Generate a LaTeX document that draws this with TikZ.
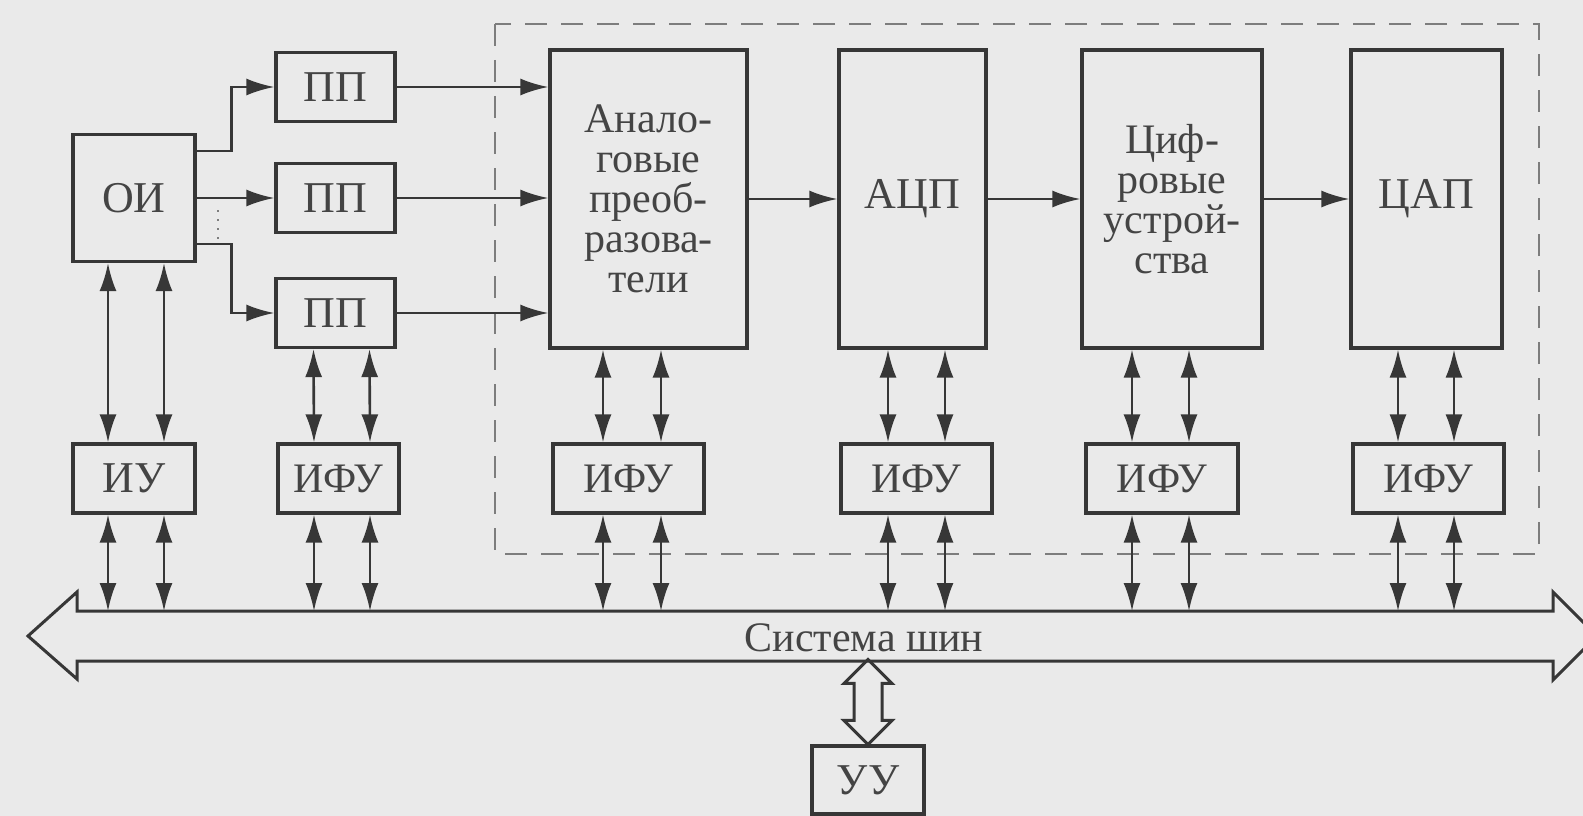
\documentclass[tikz,border=0pt]{standalone}
\usepackage{fontspec}
\setmainfont{Liberation Serif}
\usetikzlibrary{arrows.meta}
\definecolor{bg}{RGB}{234,234,234}
\definecolor{ln}{RGB}{55,55,55}
\definecolor{tx}{RGB}{68,68,68}
\definecolor{dsh}{RGB}{125,125,125}
\begin{document}
\begin{tikzpicture}[x=1pt,y=-1pt,
  box/.style={draw=ln, line width=3.2pt, text=tx, inner sep=0pt, align=center,
    font=\fontsize{44}{40}\selectfont},
  small/.style={font=\fontsize{42}{40}\selectfont},
  arr/.style={draw=ln, line width=2.6pt, -{Latex[length=28pt,width=17pt]}},
  dbl/.style={draw=ln, line width=2.6pt, {Latex[length=28pt,width=17pt]}-{Latex[length=28pt,width=17pt]}},
  dashbox/.style={draw=dsh, line width=2.8pt, dash pattern=on 22pt off 14pt},
  busline/.style={draw=ln, line width=3pt, line join=miter},
  lbl/.style={text=tx, font=\fontsize{42}{40}\selectfont},
]
\fill[bg] (0,0) rectangle (1583,816);
\useasboundingbox (0,0) rectangle (1583,816);
\clip (0,0) rectangle (1583,816);

% dashed frame
\draw[dashbox] (495,24) rectangle (1539,554);

% source and sensors
\node[box, minimum width=122pt, minimum height=127pt] (oi) at (134,198) {ОИ};
\node[box, minimum width=119pt, minimum height=69pt] (pp1) at (335.5,87) {ПП};
\node[box, minimum width=119pt, minimum height=69pt] (pp2) at (335.5,198) {ПП};
\node[box, minimum width=119pt, minimum height=69pt] (pp3) at (335.5,313) {ПП};

% main chain
\node[box, small, minimum width=197pt, minimum height=298pt] (an) at (648.5,199) {Анало-\\говые\\преоб-\\разова-\\тели};
\node[box, minimum width=147pt, minimum height=298pt] (adc) at (912.5,199) {АЦП};
\node[box, small, minimum width=180pt, minimum height=298pt] (dig) at (1172,199) {Циф-\\ровые\\устрой-\\ства};
\node[box, minimum width=151pt, minimum height=298pt] (dac) at (1426.5,199) {ЦАП};

% interface units
\node[box, minimum width=122pt, minimum height=69pt] (iu) at (134,478.5) {ИУ};
\node[box, small, minimum width=121pt, minimum height=69pt] (ifu1) at (338.5,478.5) {ИФУ};
\node[box, small, minimum width=151pt, minimum height=69pt] (ifu2) at (628.5,478.5) {ИФУ};
\node[box, small, minimum width=151pt, minimum height=69pt] (ifu3) at (916.5,478.5) {ИФУ};
\node[box, small, minimum width=152pt, minimum height=69pt] (ifu4) at (1162,478.5) {ИФУ};
\node[box, small, minimum width=151pt, minimum height=69pt] (ifu5) at (1428.5,478.5) {ИФУ};

% control unit
\node[box, minimum width=112pt, minimum height=68pt] (uu) at (868,780) {УУ};

% bus
\coordinate (bustop) at (0,611);
\coordinate (busbot) at (0,661);
\draw[busline] (77,611) -- (1553,611) -- (1553,592) -- (1597,636) -- (1553,680) -- (1553,661)
  -- (77,661) -- (77,679) -- (28,636) -- (77,592) -- cycle;
\node[lbl] (bus) at (864,638) {Система шин};

% hollow double arrow bus <-> УУ
\draw[busline] (uu.north) -- ++(-24,-24) -- ++(10,0) -- ++(0,-37) -- ++(-10,0) -- ++(24,-24)
  -- ++(24,24) -- ++(-10,0) -- ++(0,37) -- ++(10,0) -- cycle;

% ОИ -> ПП
\draw[arr] ([yshift=47pt]oi.east) -- ++(35,0) |- (pp1.west);
\draw[arr] (oi.east) -- (pp2.west);
\draw[arr] ([yshift=-46pt]oi.east) -- ++(35,0) |- (pp3.west);
\draw[draw=dsh, line width=2pt, dash pattern=on 2pt off 7pt] ([xshift=21pt,yshift=-12pt]oi.east) -- ++(0,32);

% ПП -> analog
\draw[arr] (pp1.east) -- (pp1.east -| an.west);
\draw[arr] (pp2.east) -- (pp2.east -| an.west);
\draw[arr] (pp3.east) -- (pp3.east -| an.west);

% chain
\draw[arr] (an.east) -- (adc.west);
\draw[arr] (adc.east) -- (dig.west);
\draw[arr] (dig.east) -- (dac.west);

% ОИ <-> ИУ
\draw[dbl] ([xshift=-26pt]oi.south) -- ([xshift=-26pt]iu.north);
\draw[dbl] ([xshift=30pt]oi.south) -- ([xshift=30pt]iu.north);
% boxes <-> ИФУ
\draw[dbl] ([xshift=-22pt]pp3.south) -- ([xshift=-24.5pt]ifu1.north);
\draw[dbl] ([xshift=34pt]pp3.south) -- ([xshift=31.5pt]ifu1.north);
\draw[dbl] ([xshift=-45.5pt]an.south) -- ([xshift=-25.5pt]ifu2.north);
\draw[dbl] ([xshift=12.5pt]an.south) -- ([xshift=32.5pt]ifu2.north);
\draw[dbl] ([xshift=-24.5pt]adc.south) -- ([xshift=-28.5pt]ifu3.north);
\draw[dbl] ([xshift=32.5pt]adc.south) -- ([xshift=28.5pt]ifu3.north);
\draw[dbl] ([xshift=-40pt]dig.south) -- ([xshift=-30pt]ifu4.north);
\draw[dbl] ([xshift=17pt]dig.south) -- ([xshift=27pt]ifu4.north);
\draw[dbl] ([xshift=-28.5pt]dac.south) -- ([xshift=-30.5pt]ifu5.north);
\draw[dbl] ([xshift=27.5pt]dac.south) -- ([xshift=25.5pt]ifu5.north);

% ИУ/ИФУ <-> bus
\foreach \n/\a/\b in {iu/-26/30, ifu1/-24.5/31.5, ifu2/-25.5/32.5, ifu3/-28.5/28.5, ifu4/-30/27, ifu5/-30.5/25.5}{
  \draw[dbl] ([xshift=\a pt]\n.south) -- ([xshift=\a pt]\n.south |- bustop);
  \draw[dbl] ([xshift=\b pt]\n.south) -- ([xshift=\b pt]\n.south |- bustop);
}
\end{tikzpicture}
\end{document}
